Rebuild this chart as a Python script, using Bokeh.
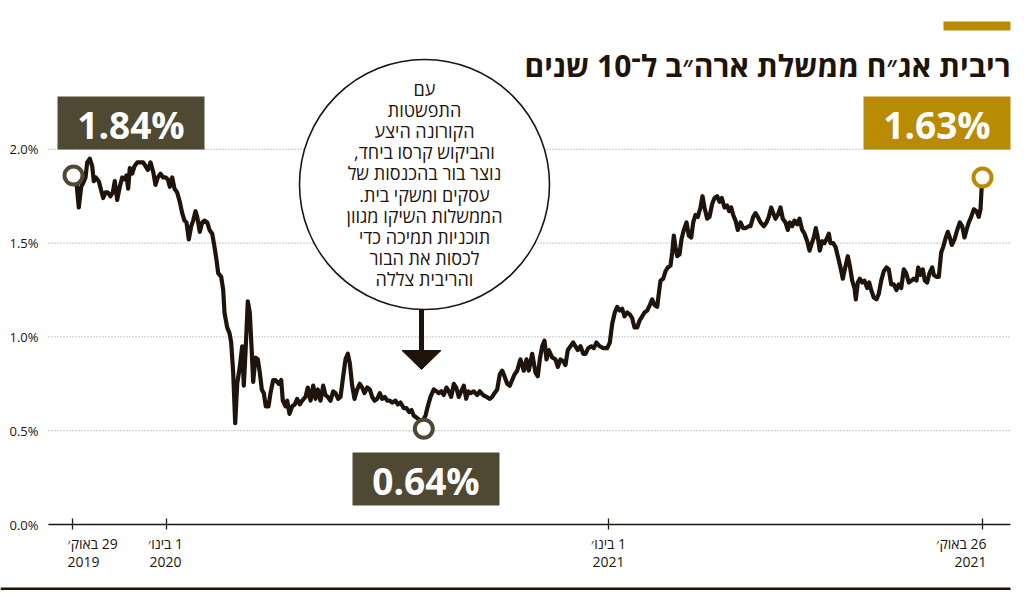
from bokeh.plotting import figure
from bokeh.models import Range1d, FixedTicker, PrintfTickFormatter, Label, BoxAnnotation
from bokeh.embed import file_html
from bokeh.resources import INLINE

# ---------------- data ----------------
# timeline position (chart's own, non-linear time scale), 0 = 29 Aug 2019
t = [1, 4, 6.3, 8.7, 10.7, 13, 14.7, 17.3, 19.7, 21.3, 23.3, 26.3, 28.7, 30.7, 33, 35.3, 38, 40.3,
     42.3, 44.7, 47.3, 49.7, 52, 54, 55.7, 57.3, 59.7, 62, 64.7, 68, 70.7, 73, 75.3, 78, 80.7, 83,
     85.3, 88, 90.7, 93, 95.3, 97.3, 99.7, 102, 104.7, 107.3, 109.7, 112, 114, 116.3, 118.7, 120.7,
     123, 124.7, 127.3, 129.7, 132, 134.7, 137, 139.7, 142, 144, 145.7, 148.7, 150.7, 152, 154.7,
     157, 158.7, 160.7, 162.7, 164.7, 167.3, 169.7, 171.3, 173.3, 175.3, 177.3, 179, 180.7, 183,
     185.3, 187.3, 189.3, 191.3, 193.3, 196, 198, 200.7, 203, 206.3, 208.7, 210.3, 213, 214.7, 217,
     219.7, 222.3, 224.7, 227.3, 229.7, 233, 235.3, 238, 240.7, 243, 245.3, 248, 250.7, 253, 255.3,
     258, 260.7, 263, 265.7, 268, 270.7, 273, 275.3, 277.3, 279.7, 282, 284.7, 287.3, 289.7, 292,
     294.7, 297.3, 299.7, 302, 304.7, 307.3, 309.7, 312.3, 314.7, 317.3, 319.7, 323, 325.3, 328,
     331.3, 334, 336.7, 339, 341.3, 344, 346.3, 349.7, 353, 355.3, 358, 361.3, 364, 366.3, 368.7,
     371.3, 374, 376.3, 378.7, 381.3, 383.7, 386.3, 388.7, 391.3, 393.7, 395.7, 398, 401.3, 404.7,
     407.3, 410.7, 414, 417.3, 419.7, 422, 424.7, 427.3, 429.7, 432, 434.7, 437.3, 439.7, 442,
     444.7, 447.3, 448, 451.3, 454, 456.3, 459.7, 463, 465.3, 467.3, 469.7, 472, 474, 476.3, 479.7,
     483, 485.3, 488, 490.7, 493, 495.3, 498, 500.7, 503, 505.3, 508, 510.7, 513, 515.7, 518.7,
     521.3, 524, 527.3, 530.7, 534.7, 537.3, 539.7, 542.3, 544.7, 547.3, 549.7, 552, 554.7, 557.3,
     559.7, 562, 564.7, 567.3, 569.7, 572, 574.7, 577.3, 579.7, 582, 584.7, 586.3, 588, 590.7, 593,
     595.3, 598, 599.7, 601.3, 603, 604.7, 607, 609, 611.3, 614, 616.3, 618.7, 620.7, 623, 625.3,
     628, 630, 632, 634.7, 637, 639.7, 642, 644.7, 647, 649.3, 652, 654.7, 656.7, 658.7, 660.7, 663,
     665.3, 668, 670.7, 673.3, 676.3, 678, 680.7, 683, 685.3, 688, 691.3, 694, 696.3, 698.7, 700.7,
     703, 705.3, 708, 710.3, 713, 715.3, 717.3, 719.7, 722, 724.7, 727, 729.7, 732, 734.7, 737,
     739.3, 741.3, 743.3, 745.3, 747.3, 749.7, 752, 754, 756.3, 758, 760.7, 763, 765.3, 768, 770.3,
     772.7, 775.3, 777.3, 779.7, 782, 783.3, 785.3, 787.3, 789.7, 792, 794.7, 796.7, 798.7, 801.3,
     804, 806.3, 808.7, 811.3, 814, 816.3, 818.7, 821.3, 824, 826.3, 828.7, 831.3, 833.7, 836.3,
     839, 841.3, 844, 845.7, 848, 850.3, 852.3, 854.7, 857, 859.7, 861.3, 864, 866.3, 868.7, 870.7,
     873.3, 875.3, 877.3, 879.3, 882, 884.7, 887.3, 889.7, 892, 894, 896.3, 898.7, 901.3, 904,
     906.3, 908, 909, 910]
yield_pct = [1.86, 1.82, 1.69, 1.80, 1.82, 1.85, 1.93, 1.95, 1.91, 1.83, 1.85, 1.83, 1.78, 1.74,
             1.77, 1.77, 1.75, 1.77, 1.83, 1.73, 1.80, 1.85, 1.84, 1.86, 1.79, 1.90, 1.87, 1.91,
             1.93, 1.93, 1.93, 1.91, 1.89, 1.93, 1.88, 1.81, 1.85, 1.87, 1.85, 1.85, 1.84, 1.80,
             1.85, 1.79, 1.77, 1.72, 1.66, 1.62, 1.61, 1.52, 1.59, 1.62, 1.67, 1.64, 1.56, 1.61,
             1.62, 1.61, 1.57, 1.55, 1.48, 1.41, 1.34, 1.32, 1.25, 1.13, 1.05, 1.02, 0.97, 0.81,
             0.54, 0.75, 0.84, 0.95, 0.74, 0.95, 1.19, 1.13, 0.95, 0.76, 0.89, 0.88, 0.81, 0.72,
             0.70, 0.63, 0.63, 0.70, 0.77, 0.77, 0.75, 0.77, 0.66, 0.63, 0.66, 0.59, 0.63, 0.64,
             0.67, 0.64, 0.66, 0.68, 0.73, 0.66, 0.74, 0.67, 0.72, 0.66, 0.74, 0.69, 0.68, 0.66,
             0.71, 0.70, 0.67, 0.68, 0.79, 0.88, 0.91, 0.86, 0.74, 0.67, 0.72, 0.75, 0.73, 0.70,
             0.73, 0.72, 0.68, 0.66, 0.67, 0.70, 0.67, 0.68, 0.66, 0.66, 0.65, 0.66, 0.64, 0.65,
             0.62, 0.62, 0.60, 0.61, 0.58, 0.57, 0.56, 0.55, 0.58, 0.63, 0.68, 0.72, 0.71, 0.70,
             0.71, 0.69, 0.73, 0.71, 0.68, 0.75, 0.73, 0.68, 0.71, 0.74, 0.67, 0.71, 0.70, 0.71,
             0.69, 0.71, 0.69, 0.68, 0.67, 0.68, 0.70, 0.72, 0.80, 0.82, 0.79, 0.75, 0.74, 0.77,
             0.80, 0.82, 0.87, 0.88, 0.82, 0.88, 0.82, 0.91, 0.81, 0.79, 0.88, 0.95, 0.98, 0.88,
             0.93, 0.89, 0.88, 0.84, 0.88, 0.87, 0.85, 0.93, 0.95, 0.97, 0.95, 0.93, 0.95, 0.91,
             0.91, 0.94, 0.95, 0.94, 0.97, 0.95, 0.94, 0.94, 0.97, 1.07, 1.13, 1.16, 1.14, 1.15,
             1.11, 1.13, 1.12, 1.10, 1.05, 1.05, 1.09, 1.11, 1.13, 1.14, 1.17, 1.20, 1.17, 1.16,
             1.23, 1.30, 1.31, 1.35, 1.37, 1.38, 1.45, 1.54, 1.48, 1.43, 1.44, 1.52, 1.57, 1.61,
             1.54, 1.53, 1.61, 1.65, 1.64, 1.69, 1.75, 1.69, 1.63, 1.64, 1.71, 1.74, 1.75, 1.72,
             1.74, 1.69, 1.70, 1.67, 1.69, 1.65, 1.62, 1.57, 1.61, 1.58, 1.58, 1.59, 1.59, 1.64,
             1.66, 1.64, 1.61, 1.59, 1.61, 1.64, 1.69, 1.66, 1.63, 1.65, 1.69, 1.63, 1.61, 1.57,
             1.61, 1.59, 1.62, 1.60, 1.63, 1.57, 1.55, 1.51, 1.46, 1.50, 1.53, 1.58, 1.53, 1.46,
             1.51, 1.50, 1.52, 1.55, 1.50, 1.50, 1.48, 1.43, 1.37, 1.31, 1.37, 1.43, 1.38, 1.30,
             1.26, 1.20, 1.29, 1.31, 1.29, 1.30, 1.26, 1.29, 1.25, 1.21, 1.20, 1.23, 1.30, 1.35,
             1.37, 1.36, 1.28, 1.28, 1.25, 1.28, 1.26, 1.36, 1.34, 1.29, 1.30, 1.31, 1.30, 1.37,
             1.33, 1.36, 1.30, 1.29, 1.34, 1.37, 1.33, 1.32, 1.32, 1.45, 1.48, 1.53, 1.56, 1.53,
             1.49, 1.52, 1.57, 1.61, 1.59, 1.53, 1.57, 1.61, 1.64, 1.68, 1.67, 1.64, 1.68, 1.78,
             1.85]

marker_t = [1, 351.3, 910]
marker_v = [1.86, 0.51, 1.85]
marker_labels = ["1.84%", "0.64%", "1.63%"]

x_ticks = [0, 94, 536, 910]
x_tick_line1 = ["29 באוק׳", "1 בינו׳", "1 בינו׳", "26 באוק׳"]
x_tick_line2 = ["2019", "2020", "2021", "2021"]
y_ticks = [0.0, 0.5, 1.0, 1.5, 2.0]

title_text = "ריבית אג״ח ממשלת ארה״ב ל־10 שנים"
callout_lines = ["עם", "התפשטות", "הקורונה היצע", "והביקוש קרסו ביחד,",
                 "נוצר בור בהכנסות של", "עסקים ומשקי בית.", "הממשלות השיקו מגוון",
                 "תוכניות תמיכה כדי", "לכסות את הבור", "והריבית צללה"]

# ---------------- style ----------------
INK = "#1e140c"
OLIVE = "#4f4934"
GOLD = "#b98a04"
FONT = "Open Sans"
RLM = "\u200f"

# pixel helpers for annotation placement (frame covers the whole 1024x594 canvas)
def X(px):
    return px - 72

def Y(py):
    return (524 - py) / 187.6

p = figure(width=1024, height=594, output_backend="svg", toolbar_location=None,
           x_range=Range1d(X(0), X(1024)), y_range=Range1d(Y(594), Y(0)),
           min_border=0)
p.outline_line_color = None
p.background_fill_color = "white"
p.border_fill_color = "white"

# y axis (placed at the left edge of the plotting area)
p.yaxis.fixed_location = X(48)
p.yaxis.ticker = FixedTicker(ticks=y_ticks)
p.yaxis.formatter = PrintfTickFormatter(format="%.1f%%")
p.yaxis.axis_line_color = None
p.yaxis.major_tick_line_color = None
p.yaxis.minor_tick_line_color = None
p.yaxis.major_tick_out = 0
p.yaxis.major_tick_in = 0
p.yaxis.major_label_standoff = 10
p.yaxis.major_label_text_font = FONT
p.yaxis.major_label_text_font_size = "13px"
p.yaxis.major_label_text_color = INK

# x axis at value 0
p.xaxis.fixed_location = 0
p.xaxis.bounds = (X(48), X(1010))
p.xaxis.ticker = FixedTicker(ticks=x_ticks)
p.xaxis.major_label_overrides = {v: "" for v in x_ticks}
p.xaxis.major_label_text_font_size = "1px"
p.xaxis.axis_line_color = INK
p.xaxis.axis_line_width = 1.3
p.xaxis.major_tick_line_color = INK
p.xaxis.major_tick_line_width = 1.3
p.xaxis.major_tick_in = 6
p.xaxis.major_tick_out = 5
p.xaxis.minor_tick_line_color = None

p.xgrid.visible = False
p.ygrid.visible = False

# dotted horizontal guide lines at the y ticks (between the plot edges)
p.segment(x0=[X(48)] * len(y_ticks), x1=[X(1010)] * len(y_ticks), y0=y_ticks, y1=y_ticks,
          line_color="#8f8f8f", line_dash="1 2", line_width=1, level="underlay")

# x tick labels (two lines each)
x_align = ["left", "center", "center", "right"]
x_shift = [-5, -1, 0, 4]
for i, tk in enumerate(x_ticks):
    for j, txt in enumerate([RLM + x_tick_line1[i], x_tick_line2[i]]):
        p.add_layout(Label(x=tk + x_shift[i], y=Y(543 + 18 * j), text=txt,
                           text_font=FONT, text_font_size="14px", text_color=INK,
                           text_align=x_align[i], text_baseline="middle"))

# main line
p.line(t, yield_pct, line_width=4.2, line_color=INK, line_join="round", line_cap="round")

# markers
marker_colors = [OLIVE, OLIVE, GOLD]
p.scatter(marker_t, marker_v, marker="circle", size=18, fill_color="white",
          line_color=marker_colors, line_width=4)

# value boxes
boxes = [(57, 204, 96, 149, OLIVE), (352, 499, 452, 505, OLIVE), (863, 1010, 96, 149, GOLD)]
for (l, r, tp, bt, col), lab in zip(boxes, marker_labels):
    p.add_layout(BoxAnnotation(left=X(l), right=X(r), top=Y(tp), bottom=Y(bt),
                               fill_color=col, fill_alpha=1, line_color=None, level="annotation"))
for (l, r, tp, bt, col), lab in zip(boxes, marker_labels):
    p.add_layout(Label(x=X((l + r) / 2), y=Y((tp + bt) / 2 + 1), text=lab,
                       text_font=FONT, text_font_style="bold", text_font_size="37px",
                       text_color="white", text_align="center", text_baseline="middle",
                       level="overlay"))

# callout circle + arrow
p.circle(x=[X(424)], y=[Y(184)], radius=125, radius_units="screen",
         fill_color="white", line_color=INK, line_width=1.6)
p.segment(x0=[X(421)], y0=[Y(309)], x1=[X(421)], y1=[Y(352)], line_width=5, line_color=INK)
p.patch(x=[X(401.5), X(440.5), X(421)], y=[Y(350), Y(350), Y(369)], fill_color=INK,
        line_color=INK, line_width=1)
for i, line in enumerate(callout_lines):
    txt = line + RLM if line[-1] in ",." else line
    p.add_layout(Label(x=X(424), y=Y(88 + 21.2 * i), text=txt, text_font=FONT,
                       text_font_size="18px", text_color=INK, text_align="center",
                       text_baseline="middle"))

# title + gold bar
p.add_layout(BoxAnnotation(left=X(943), right=X(1010), top=Y(21), bottom=Y(30),
                           fill_color=GOLD, fill_alpha=1, line_color=None))
p.add_layout(Label(x=X(1010), y=Y(65), text=title_text, text_font=FONT,
                   text_font_style="bold", text_font_size="30px", text_color=INK,
                   text_align="right", text_baseline="alphabetic"))

# bottom rule
p.add_layout(BoxAnnotation(left=X(0), right=X(1010), top=Y(587), bottom=Y(589.5),
                           fill_color=INK, fill_alpha=1, line_color=None))

open("out.html", "w").write(file_html(p, INLINE))
